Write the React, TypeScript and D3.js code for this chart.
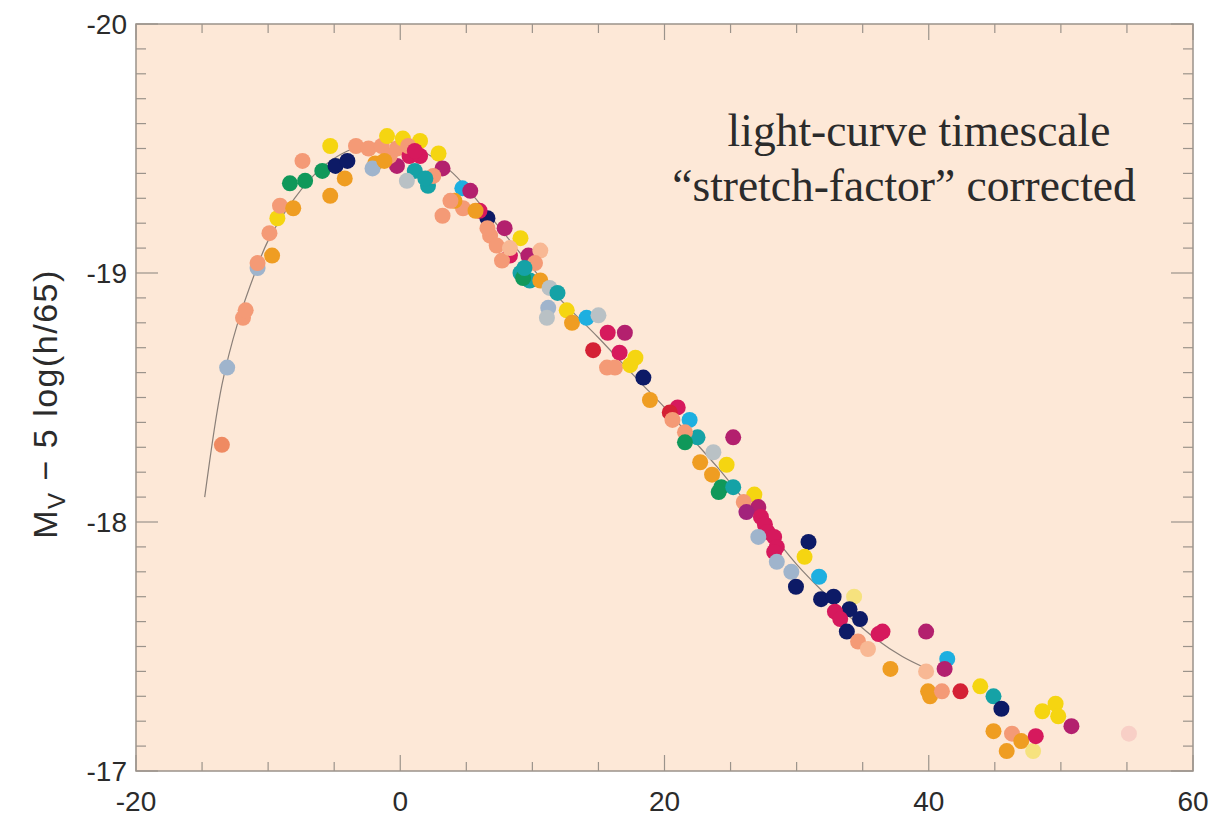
import React from "react";
import * as d3 from "d3";

// ---- data (day since peak, M_V - 5 log(h/65), colour key) ----
const days = [
  -13.5, -13.1, -11.9, -11.7, -10.8, -10.8, -9.7, -9.9, -9.3, -9.1, -8.1, -8.35, -7.2, -7.4, -5.9, -5.3,
  -4.9, -4.0, -4.2, -5.3, -3.35, -2.4, -1.4, -0.25, -1.0, 0.2, 1.5, -1.9, -2.1, 0.7, 1.5, -0.25,
  1.1, 0.5, 2.1, 2.9, 3.2, 2.5, 3.2, 4.7, 5.3, 4.75, 4.1, 6.6, 6.0, 7.9, 6.8, 7.3,
  9.1, 8.3, 9.7, 7.7, 10.6, 9.1, 9.8, 9.3, 10.6, 11.3, 11.9, 11.2, 11.1, 12.6, 13.0, 14.1,
  15.0, 15.7, 17.0, 14.6, 16.6, 15.65, 16.25, 17.4, 17.8, 18.4, 18.9, 21.0, 20.4, 20.6, 21.9, 22.5,
  21.55, 21.55, 25.2, 23.7, 22.7, 24.7, 23.6, 24.3, 24.1, 25.2, 26.8, 26.0, 27.1, 26.2, 27.3, 27.6,
  27.8, 28.3, 27.1, 28.5, 28.3, 28.5, 30.9, 30.6, 29.6, 29.95, 31.7, 31.85, 32.8, 34.35, 34.0, 32.9,
  34.8, 33.3, 33.8, 36.2, 36.5, 34.65, 35.4, 39.8, 37.1, 41.4, 41.2, 39.8, 39.95, 40.1, 41.0, 42.4,
  43.9, 44.9, 45.5, 44.9, 46.3, 47.0, 45.9, 47.9, 48.1, 48.6, 49.6, 49.8, 50.8, 55.15,
  0.6, 1.1, -0.8, -1.2, 1.9, 3.8, 5.7, 6.6, 8.3, 10.2, 9.4,
];
const mags = [
  -18.31, -18.62, -18.82, -18.85, -19.02, -19.04, -19.07, -19.16, -19.22, -19.27, -19.26, -19.36, -19.37, -19.45, -19.41, -19.31,
  -19.43, -19.45, -19.38, -19.51, -19.51, -19.50, -19.51, -19.50, -19.55, -19.54, -19.53, -19.44, -19.42, -19.47, -19.47, -19.43,
  -19.41, -19.37, -19.35, -19.48, -19.42, -19.39, -19.23, -19.34, -19.33, -19.26, -19.29, -19.22, -19.25, -19.18, -19.15, -19.11,
  -19.14, -19.07, -19.07, -19.05, -19.09, -19.00, -18.97, -18.98, -18.97, -18.94, -18.92, -18.86, -18.82, -18.85, -18.80, -18.82,
  -18.83, -18.76, -18.76, -18.69, -18.68, -18.62, -18.62, -18.63, -18.66, -18.58, -18.49, -18.46, -18.44, -18.41, -18.41, -18.34,
  -18.36, -18.32, -18.34, -18.28, -18.24, -18.23, -18.19, -18.14, -18.12, -18.14, -18.11, -18.08, -18.06, -18.04, -18.02, -17.99,
  -17.96, -17.94, -17.94, -17.90, -17.88, -17.84, -17.92, -17.86, -17.80, -17.74, -17.78, -17.69, -17.70, -17.70, -17.65, -17.64,
  -17.61, -17.61, -17.56, -17.55, -17.56, -17.52, -17.49, -17.56, -17.41, -17.45, -17.41, -17.40, -17.32, -17.30, -17.32, -17.32,
  -17.34, -17.30, -17.25, -17.16, -17.15, -17.12, -17.08, -17.08, -17.14, -17.24, -17.27, -17.22, -17.18, -17.15,
  -19.51, -19.49, -19.47, -19.45, -19.38, -19.29, -19.25, -19.18, -19.10, -19.04, -19.02,
];
const colorKeys = [
  "salmonDark", "lightblue", "salmon", "salmon", "lightblue", "salmon", "orange", "salmon", "yellow", "salmon", "orange", "green", "green", "salmon", "green", "orange",
  "navy", "navy", "orange", "yellow", "salmon", "salmon", "salmon", "salmon", "yellow", "yellow", "yellow", "orange", "lightblue", "crimson", "crimson", "magenta",
  "teal", "lightgray", "teal", "yellow", "magenta", "salmon", "salmon", "cyan", "magenta", "salmon", "orange", "navy", "crimson", "magenta", "salmon", "salmon",
  "yellow", "crimson", "magenta", "salmon", "lightsalmon", "teal", "teal", "green", "orange", "lightgray", "teal", "lightblue", "lightgray", "yellow", "orange", "cyan",
  "lightgray", "crimson", "magenta", "red", "crimson", "salmon", "salmon", "yellow", "yellow", "navy", "orange", "crimson", "red", "salmon", "cyan", "teal",
  "salmon", "green", "magenta", "lightgray", "orange", "yellow", "orange", "green", "green", "teal", "yellow", "salmon", "magenta", "purple", "crimson", "crimson",
  "crimson", "crimson", "lightblue", "crimson", "crimson", "lightblue", "navy", "yellow", "lightblue", "navy", "cyan", "navy", "navy", "lightyellow", "navy", "crimson",
  "navy", "crimson", "navy", "crimson", "crimson", "salmon", "lightsalmon", "magenta", "orange", "cyan", "magenta", "lightsalmon", "orange", "orange", "salmon", "red",
  "yellow", "teal", "navy", "orange", "salmon", "orange", "orange", "lightyellow", "crimson", "yellow", "yellow", "yellow", "magenta", "pink",
  "salmon", "crimson", "salmon", "orange", "teal", "salmon", "orange", "salmon", "lightsalmon", "salmon", "teal",
];
const palette: Record<string, string> = {
  yellow: "#f5d511",
  orange: "#ef9d22",
  salmon: "#f49a76",
  salmonDark: "#ef8a62",
  lightsalmon: "#f8b894",
  green: "#10985a",
  teal: "#15a2a6",
  cyan: "#1eafe0",
  navy: "#0d1a66",
  crimson: "#d6195d",
  magenta: "#b3206e",
  purple: "#a2237c",
  red: "#d42135",
  lightblue: "#9fb4cc",
  lightgray: "#b9c1c5",
  lightyellow: "#f6e27e",
  pink: "#f8cfc6",
};

// template light curve
const templateDays = [-14.8, -13.5, -12.3, -11, -10, -8, -6, -4, -2, 0, 2, 4, 6, 8, 10, 12, 15, 18, 20, 22, 24, 26, 28, 30, 32, 34, 36, 38, 39.5];
const templateMags = [-18.1, -18.55, -18.8, -19.0, -19.13, -19.3, -19.42, -19.49, -19.52, -19.52, -19.48, -19.4, -19.28, -19.15, -19.02, -18.9, -18.74, -18.57, -18.46, -18.34, -18.22, -18.09, -17.96, -17.83, -17.72, -17.62, -17.53, -17.46, -17.42];

const xTicks = [-20, 0, 20, 40, 60];
const yTicks = [-20, -19, -18, -17];

export default function App() {
  const L = 136, R = 1193, T = 24, B = 771;
  const x = d3.scaleLinear().domain([-20, 60]).range([L, R]);
  const y = d3.scaleLinear().domain([-20, -17]).range([T, B]);
  const xMinor = d3.range(-20, 60.01, 5);
  const yMinor = d3.range(0, 31).map((i) => -20 + i * 0.1);
  const line = d3
    .line<number>()
    .x((_, i) => x(templateDays[i]))
    .y((m) => y(m))
    .curve(d3.curveCatmullRom);
  const axisColor = "#9b938b";
  const textColor = "#2b2b2b";
  const pts = days.map((d, i) => ({ d, m: mags[i], c: palette[colorKeys[i]] }));

  return (
    <svg width={1228} height={818} style={{ position: "fixed", left: 0, top: 0 }} fontFamily="'Liberation Sans', Arial, sans-serif">
      <rect x={0} y={0} width={1228} height={818} fill="#ffffff" />
      <rect x={L} y={T} width={R - L} height={B - T} fill="#fde8d7" />
      {/* ticks */}
      {xMinor.map((v) => {
        const major = xTicks.includes(Math.round(v));
        const len = major ? 16 : 9;
        return (
          <g key={"xt" + v} stroke={axisColor} strokeWidth={1.2}>
            <line x1={x(v)} x2={x(v)} y1={B} y2={B - len} />
            <line x1={x(v)} x2={x(v)} y1={T} y2={T + len} />
          </g>
        );
      })}
      {yMinor.map((v, i) => {
        const major = i % 10 === 0;
        const len = major ? 22 : 10;
        return (
          <g key={"yt" + i} stroke={axisColor} strokeWidth={1.2}>
            <line x1={L} x2={L + len} y1={y(v)} y2={y(v)} />
            <line x1={R} x2={R - len} y1={y(v)} y2={y(v)} />
          </g>
        );
      })}
      <path d={line(templateMags) || ""} fill="none" stroke="#8a7f78" strokeWidth={1.2} />
      {pts.map((p, i) => (
        <circle key={i} cx={x(p.d)} cy={y(p.m)} r={8} fill={p.c} />
      ))}
      <rect x={L} y={T} width={R - L} height={B - T} fill="none" stroke={axisColor} strokeWidth={1.5} />
      {xTicks.map((v) => (
        <text key={"xl" + v} x={x(v)} y={811} textAnchor="middle" fontSize={28} fill={textColor}>
          {v}
        </text>
      ))}
      {yTicks.map((v) => (
        <text key={"yl" + v} x={127} y={y(v) + 10} textAnchor="end" fontSize={28} fill={textColor}>
          {v}
        </text>
      ))}
      <text transform="translate(57,404) rotate(-90)" textAnchor="middle" fontSize={34} letterSpacing={1.5} fill={textColor}>
        M<tspan fontSize={24} dy={8}>V</tspan>
        <tspan dy={-8}>{" \u2212 5 log(h/65)"}</tspan>
      </text>
      <g fontFamily="'Liberation Serif', 'Times New Roman', serif" fontSize={45.5} fill={textColor} textAnchor="middle">
        <text x={919} y={146}>light-curve timescale</text>
        <text x={904} y={201}>{"\u201cstretch-factor\u201d corrected"}</text>
      </g>
    </svg>
  );
}
